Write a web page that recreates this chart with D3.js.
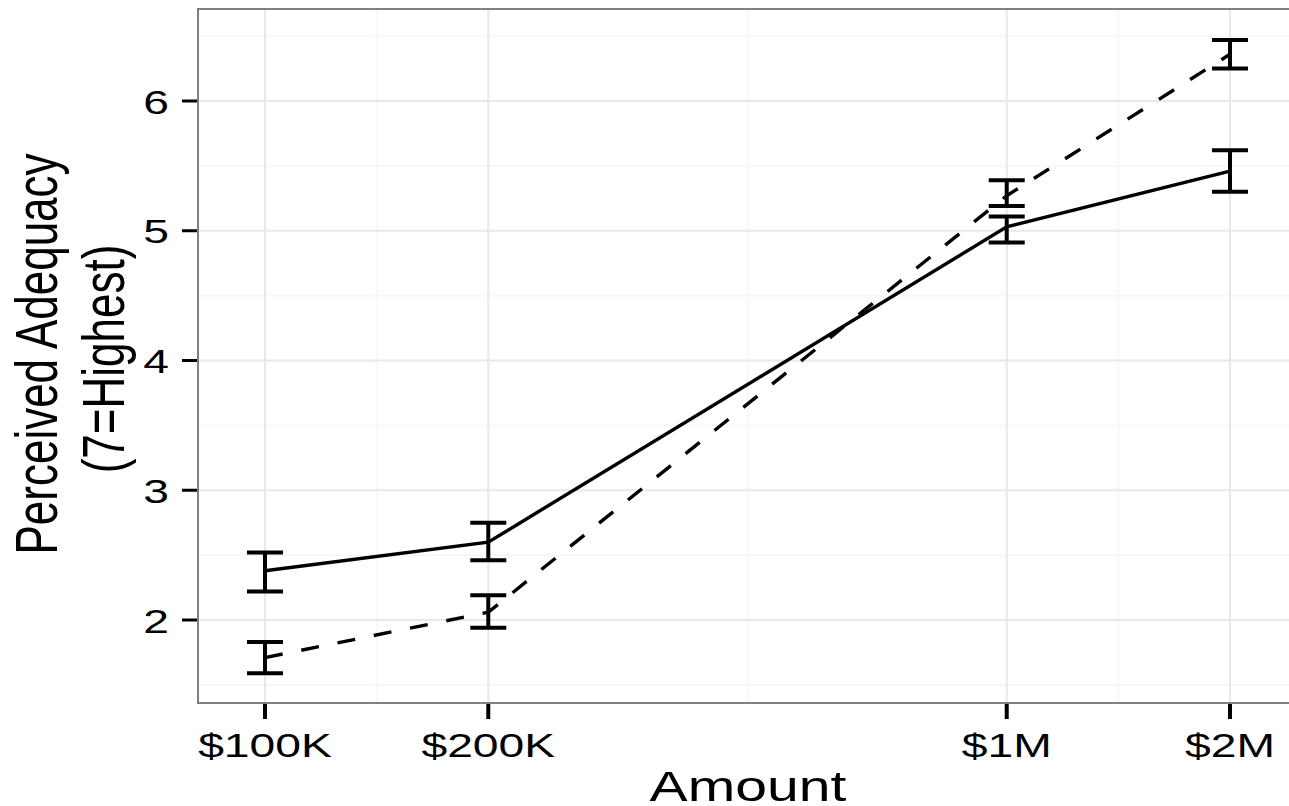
<!DOCTYPE html>
<html>
<head>
<meta charset="utf-8">
<script src="https://d3js.org/d3.v7.min.js"></script>
<style>
  body { margin: 0; background: #fff; }
  text { font-family: "Liberation Sans", Arial, sans-serif; fill: #000; }
</style>
</head>
<body>
<svg id="chart" width="1289" height="806"></svg>
<script>
// data
const amounts = [1e5, 2e5, 1e6, 2e6];
const xLabels = ["$100K", "$200K", "$1M", "$2M"];
const yTicks = [2, 3, 4, 5, 6];
const yMinor = [1.5, 2.5, 3.5, 4.5, 5.5, 6.5];

const solidMean = [2.38, 2.60, 5.03, 5.46];
const solidLow  = [2.22, 2.46, 4.91, 5.30];
const solidHigh = [2.52, 2.75, 5.11, 5.62];

const dashMean = [1.71, 2.06, 5.27, 6.36];
const dashLow  = [1.59, 1.94, 5.19, 6.25];
const dashHigh = [1.83, 2.19, 5.39, 6.47];

const stretch = 1.36; // the original image is stretched sideways

const svg = d3.select("#chart");
const panel = {left: 198, top: 9, right: 1292, bottom: 703};

const x = d3.scaleLog().domain([1e5, 2e6]).range([265, 1230]);
const y = d3.scaleLinear().domain([2, 6]).range([620, 101]);

// minor x grid: halfway between breaks on the log scale
const xMinor = d3.pairs(amounts).map(p => Math.sqrt(p[0] * p[1]));

const grid = svg.append("g");
grid.selectAll(".ymin").data(yMinor).enter().append("line")
  .attr("x1", panel.left).attr("x2", panel.right)
  .attr("y1", d => y(d)).attr("y2", d => y(d))
  .attr("stroke", "#f7f7f7").attr("stroke-width", 2);
grid.selectAll(".xmin").data(xMinor).enter().append("line")
  .attr("x1", d => x(d)).attr("x2", d => x(d))
  .attr("y1", panel.top).attr("y2", panel.bottom)
  .attr("stroke", "#f7f7f7").attr("stroke-width", 2);
grid.selectAll(".ymaj").data(yTicks).enter().append("line")
  .attr("x1", panel.left).attr("x2", panel.right)
  .attr("y1", d => y(d)).attr("y2", d => y(d))
  .attr("stroke", "#e8e8e8").attr("stroke-width", 2);
grid.selectAll(".xmaj").data(amounts).enter().append("line")
  .attr("x1", d => x(d)).attr("x2", d => x(d))
  .attr("y1", panel.top).attr("y2", panel.bottom)
  .attr("stroke", "#e8e8e8").attr("stroke-width", 2);

// lines
const line = d3.line().x(d => x(d[0])).y(d => y(d[1]));
svg.append("path")
  .datum(d3.zip(amounts, solidMean))
  .attr("d", line).attr("fill", "none")
  .attr("stroke", "#000").attr("stroke-width", 3.4);
svg.append("path")
  .datum(d3.zip(amounts, dashMean))
  .attr("d", line).attr("fill", "none")
  .attr("stroke", "#000").attr("stroke-width", 3.4)
  .attr("stroke-dasharray", "18,19");

// error bars
function errorBars(low, high) {
  const g = svg.append("g").attr("stroke", "#000").attr("stroke-width", 4);
  const rows = d3.zip(amounts, low, high);
  g.selectAll(".stem").data(rows).enter().append("line")
    .attr("x1", d => x(d[0])).attr("x2", d => x(d[0]))
    .attr("y1", d => y(d[1])).attr("y2", d => y(d[2]));
  g.selectAll(".lo").data(rows).enter().append("line")
    .attr("x1", d => x(d[0]) - 18).attr("x2", d => x(d[0]) + 18)
    .attr("y1", d => y(d[1])).attr("y2", d => y(d[1]));
  g.selectAll(".hi").data(rows).enter().append("line")
    .attr("x1", d => x(d[0]) - 18).attr("x2", d => x(d[0]) + 18)
    .attr("y1", d => y(d[2])).attr("y2", d => y(d[2]));
}
errorBars(solidLow, solidHigh);
errorBars(dashLow, dashHigh);

// panel border
svg.append("rect")
  .attr("x", panel.left).attr("y", panel.top)
  .attr("width", panel.right - panel.left).attr("height", panel.bottom - panel.top)
  .attr("fill", "none").attr("stroke", "#808080").attr("stroke-width", 2);

// ticks
svg.selectAll(".xtick").data(amounts).enter().append("line")
  .attr("x1", d => x(d)).attr("x2", d => x(d))
  .attr("y1", panel.bottom + 1).attr("y2", panel.bottom + 16)
  .attr("stroke", "#000").attr("stroke-width", 4);
svg.selectAll(".ytick").data(yTicks).enter().append("line")
  .attr("x1", panel.left - 16).attr("x2", panel.left - 1)
  .attr("y1", d => y(d)).attr("y2", d => y(d))
  .attr("stroke", "#000").attr("stroke-width", 3);

// tick labels
svg.selectAll(".xlab").data(amounts).enter().append("text")
  .attr("transform", d => `translate(${x(d)},757) scale(${stretch},1)`)
  .attr("text-anchor", "middle").style("font-size", "34px")
  .text((d, i) => xLabels[i]);
svg.selectAll(".ylab").data(yTicks).enter().append("text")
  .attr("transform", d => `translate(169,${y(d) + 12.5}) scale(${stretch},1)`)
  .attr("text-anchor", "end").style("font-size", "34px")
  .text(d => d);

// axis titles
svg.append("text")
  .attr("transform", `translate(748,801) scale(${stretch},1)`)
  .attr("text-anchor", "middle").style("font-size", "42px")
  .text("Amount");
svg.append("text")
  .attr("transform", `translate(57,354) scale(${stretch},1) rotate(-90)`)
  .attr("text-anchor", "middle").style("font-size", "44px")
  .text("Perceived Adequacy");
svg.append("text")
  .attr("transform", `translate(124,359) scale(${stretch},1) rotate(-90)`)
  .attr("text-anchor", "middle").style("font-size", "44px")
  .text("(7=Highest)");
</script>
</body>
</html>
